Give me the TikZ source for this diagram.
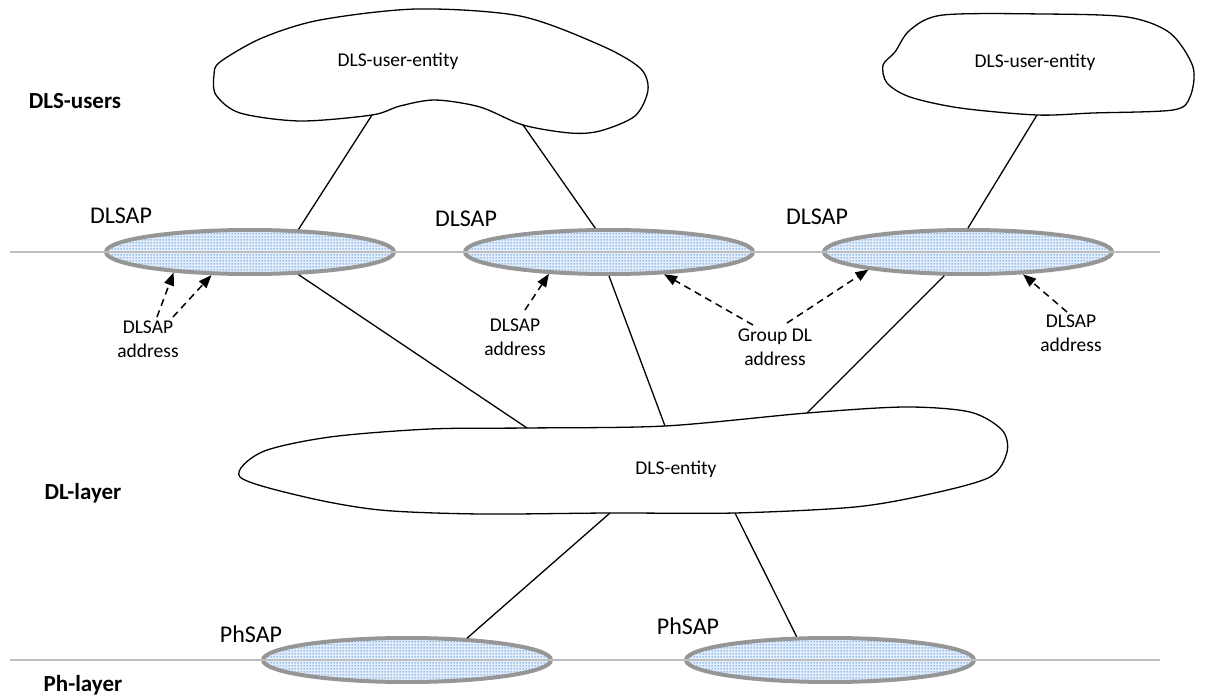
\documentclass[tikz,border=0pt]{standalone}
\usepackage{fontspec}
\setmainfont{Carlito}
\usetikzlibrary{shapes.geometric,patterns.meta,arrows.meta}

\definecolor{sapgray}{RGB}{150,150,150}
\definecolor{linegray}{RGB}{190,190,190}
\definecolor{dotblue}{RGB}{45,125,215}
\definecolor{sapfill}{RGB}{228,238,250}

\tikzdeclarepattern{name=sapdots,type=uncolored,
  bounding box={(0pt,0pt) and (3pt,3pt)},tile size={(3pt,3pt)},
  code={\fill (0.8pt,0.8pt) rectangle (2.2pt,2.2pt);}}

\begin{document}
\begin{tikzpicture}[x=1pt,y=-1pt,
    sap/.style={ellipse,draw=sapgray,line width=4pt,preaction={fill=sapfill},
      pattern=sapdots,pattern color=dotblue,
      minimum width=288pt,minimum height=44pt,inner sep=0pt},
    layerline/.style={draw=linegray,line width=2pt},
    cloud/.style={draw,line width=1.3pt,fill=white},
    link/.style={draw,line width=1.3pt},
    addrarrow/.style={draw,line width=1.5pt,dash pattern=on 7pt off 5pt,
      -{Triangle[length=13pt,width=10pt]}},
    lbl/.style={font=\fontsize{19.5}{24}\selectfont,align=center},
    saplbl/.style={font=\fontsize{24}{28}\selectfont},
    layer/.style={font=\fontsize{23}{27}\selectfont\bfseries}]
    \useasboundingbox (0,0) rectangle (1205,700);

    \node[sap] (sap1) at (250,252) {};
    \node[sap] (sap2) at (609,252) {};
    \node[sap] (sap3) at (968,252) {};
    \node[sap] (phsap1) at (407,660) {};
    \node[sap] (phsap2) at (830,660) {};

    \coordinate (la) at (10,252);
    \coordinate (lb) at (1160,252);
    \coordinate (pa) at (10,660);
    \coordinate (pb) at (1160,660);
    \draw[layerline] (la) -- (lb);
    \draw[layerline] (pa) -- (pb);

    \draw[cloud] plot[smooth cycle] coordinates {(220,62) (262,38) (320,20) (417,9) (520,16)
      (600,45) (640,68) (648,90) (635,116) (600,131) (570,133) (523,125) (480,107) (435,100)
      (400,106) (372,115) (300,121) (240,113) (216,95) (214,75)};
    \draw[cloud] plot[smooth cycle] coordinates {(895,52) (910,30) (943,15) (1043,14) (1127,17)
      (1170,33) (1193,67) (1190,97) (1173,110) (1093,113) (1037,115) (960,108) (910,97)
      (887,83) (883,65)};
    \draw[cloud] plot[smooth cycle] coordinates {(240,477) (262,452) (330,437) (430,429)
      (527,428) (665,426) (807,413) (905,407) (970,412) (1002,430) (1007,452) (990,477)
      (930,494) (855,507) (735,513) (610,513) (480,514) (380,510) (305,497)};

    \node[lbl] (user1) at (398,61) {DLS-user-entity};
    \node[lbl] (user2) at (1035,62) {DLS-user-entity};
    \node[lbl] (ent) at (676,469) {DLS-entity};

    \coordinate (u1a) at (372,115);
    \coordinate (u1b) at (523,125);
    \coordinate (u2a) at (1037,115);
    \coordinate (ea) at (527,428);
    \coordinate (eb) at (665,426);
    \coordinate (ec) at (807,413);
    \coordinate (ed) at (610,513);
    \coordinate (ee) at (735,513);

    \draw[link] (u1a) -- (sap1.25);
    \draw[link] (u1b) -- (sap2.120);
    \draw[link] (u2a) -- (sap3.90);
    \draw[link] (sap1.-25) -- (ea);
    \draw[link] (sap2.-90) -- (eb);
    \draw[link] (sap3.225) -- (ec);
    \draw[link] (ed) -- (phsap1.20);
    \draw[link] (ee) -- (phsap2.145);

    \node[saplbl] (dlsap1) at (121,216) {DLSAP};
    \node[saplbl] (dlsap2) at (466,219) {DLSAP};
    \node[saplbl] (dlsap3) at (817,217) {DLSAP};
    \node[saplbl] (phl1) at (251,634) {PhSAP};
    \node[saplbl] (phl2) at (688,626) {PhSAP};

    \node[lbl] (addr1) at (148,339) {DLSAP\\address};
    \node[lbl] (addr2) at (515,337) {DLSAP\\address};
    \node[lbl] (grp) at (775,347) {Group DL\\address};
    \node[lbl] (addr3) at (1071,333) {DLSAP\\address};

    \coordinate (t1) at (157,317);
    \coordinate (t2) at (173,317);
    \coordinate (t3) at (525,310);
    \coordinate (t4) at (753,325);
    \coordinate (t5) at (787,323);
    \coordinate (t6) at (1067,312);
    \draw[addrarrow] (t1) -- (sap1.195);
    \draw[addrarrow] (t2) -- (sap1.211);
    \draw[addrarrow] (t3) -- (sap2.200);
    \draw[addrarrow] (t4) -- (sap2.338);
    \draw[addrarrow] (t5) -- (sap3.190);
    \draw[addrarrow] (t6) -- (sap3.338);

    \node[layer] (users) at (75,101) {DLS-users};
    \node[layer] (dll) at (83,493) {DL-layer};
    \node[layer] (phl) at (83,685) {Ph-layer};
\end{tikzpicture}
\end{document}
